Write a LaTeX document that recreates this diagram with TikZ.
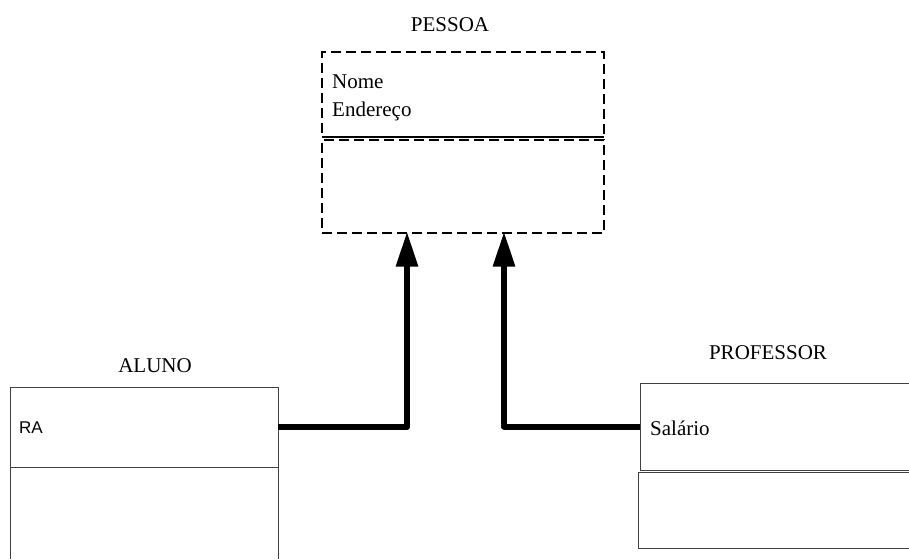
\documentclass[tikz,border=0pt]{standalone}
\usepackage{fontspec}
\setmainfont{Liberation Serif}
\newfontfamily\arialfont{Liberation Sans}
\usetikzlibrary{arrows.meta}
\begin{document}
\begin{tikzpicture}[x=1pt,y=-1pt,
  box/.style={rectangle, inner sep=0pt, outer sep=0pt},
  dbox/.style={box, draw, line width=2.8pt, dash pattern=on 10pt off 5pt},
  sline/.style={draw=black!75, line width=1pt},
  title/.style={font=\fontsize{21}{25}\selectfont, inner sep=0pt},
  attr/.style={font=\fontsize{21}{25}\selectfont, anchor=base west, inner sep=0pt},
  inh/.style={line width=6pt, line join=round, -{Triangle[length=35pt,width=21pt]}}]
\useasboundingbox (0,0) rectangle (909,559);
% PESSOA
\node[title] (tPessoa) at (450,25) {PESSOA};
\node[dbox, minimum width=282pt, minimum height=85pt] (pTop) at (463,94.5) {};
\node[dbox, minimum width=282pt, minimum height=93pt] (pBot) at (463,186.5) {};
\draw[line width=2pt] (pTop.south west) -- (pTop.south east);
\node[attr] (nome) at (332,89) {Nome};
\node[attr] (end) at (332,117) {Endereço};
% ALUNO
\node[title] (tAluno) at (155,366) {ALUNO};
\node[box, sline, minimum width=268pt, minimum height=80pt] (aTop) at (144,427) {};
\node[box, minimum width=268pt, minimum height=92pt] (aBot) at (144,513) {};
\draw[sline] (aBot.south west) -- (aBot.north west) (aBot.north east) -- (aBot.south east);
\node[font=\arialfont\fontsize{17}{20}\selectfont, anchor=base west, inner sep=0pt] (ra) at (19,433) {RA};
% PROFESSOR
\node[title] (tProf) at (768,353) {PROFESSOR};
\node[box, minimum width=269pt, minimum height=87pt] (prTop) at (774.5,426.5) {};
\draw[sline] (prTop.north east) -- (prTop.north west) -- (prTop.south west) -- (prTop.south east);
\node[box, minimum width=271pt, minimum height=76pt] (prBot) at (773.5,510) {};
\draw[sline] (prBot.north east) -- (prBot.north west) -- (prBot.south west) -- (prBot.south east);
\node[attr] (sal) at (650,435) {Salário};
% inheritance arrows
\draw[inh] (aTop.east) -| ([xshift=-56pt,yshift=1.4pt]pBot.south);
\draw[inh] (prTop.west) -| ([xshift=41pt,yshift=1.4pt]pBot.south);
\end{tikzpicture}
\end{document}
